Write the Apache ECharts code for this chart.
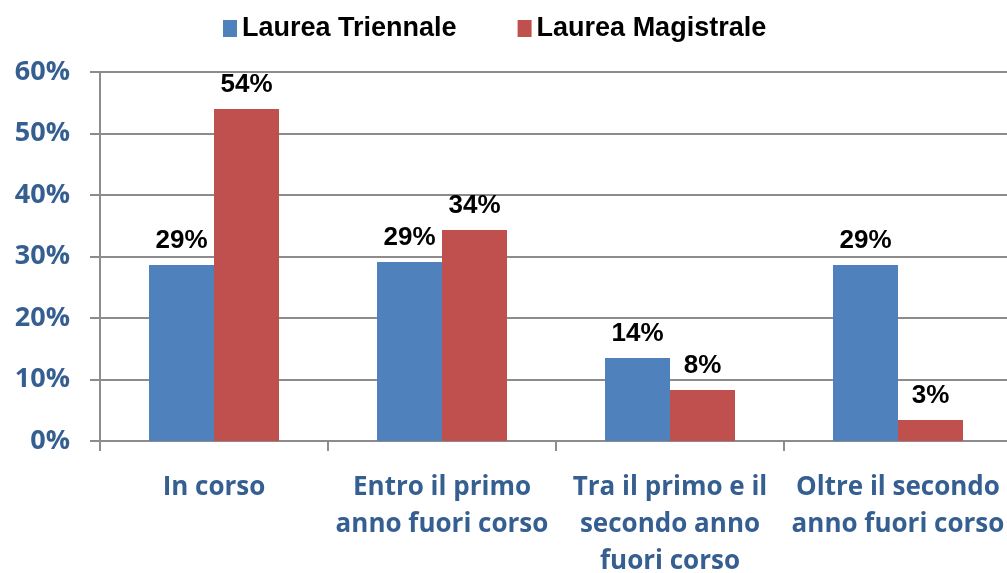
<!DOCTYPE html>
<html>
<head>
<meta charset="utf-8">
<script src="https://cdn.jsdelivr.net/npm/echarts@6/dist/echarts.min.js"></script>
<style>
  html, body { margin: 0; padding: 0; background: #fff; }
  #chart { width: 1007px; height: 573px; }
</style>
</head>
<body>
<div id="chart"></div>
<script>
const categories = ['In corso', 'Entro il primo\nanno fuori corso', 'Tra il primo e il\nsecondo anno\nfuori corso', 'Oltre il secondo\nanno fuori corso'];
const triennale = [28.6, 29.1, 13.5, 28.6];
const magistrale = [54, 34.3, 8.3, 3.4];
const yTicks = [0, 10, 20, 30, 40, 50, 60];

const chart = echarts.init(document.getElementById('chart'));

const barLabel = {
  show: true,
  position: 'top',
  distance: 11,
  color: '#000',
  fontFamily: 'Liberation Sans',
  fontWeight: 'bold',
  fontSize: 26,
  formatter: p => Math.round(p.value) + '%'
};

chart.setOption({
  animation: false,
  legend: {
    top: 10,
    left: 218,
    itemWidth: 14,
    itemHeight: 17,
    itemGap: 61,
    icon: 'rect',
    selectedMode: false,
    textStyle: { fontFamily: 'Liberation Sans', fontWeight: 'bold', fontSize: 27, color: '#000' }
  },
  grid: { left: 100, top: 72, width: 912, height: 369, outerBoundsMode: 'none' },
  xAxis: {
    type: 'category',
    data: categories,
    axisLine: { lineStyle: { color: '#8c8c8c', width: 2 } },
    axisTick: { show: true, length: 10, lineStyle: { color: '#8c8c8c', width: 2 } },
    axisLabel: {
      interval: 0,
      margin: 28,
      color: '#365F91',
      fontFamily: 'Open Sans',
      fontWeight: 'bold',
      fontSize: 26,
      lineHeight: 37
    }
  },
  yAxis: {
    type: 'value',
    min: 0,
    max: 60,
    interval: 10,
    axisLine: { show: true, lineStyle: { color: '#8c8c8c', width: 2 } },
    axisTick: { show: true, length: 10, lineStyle: { color: '#8c8c8c', width: 2 } },
    splitLine: { lineStyle: { color: '#8c8c8c', width: 2 } },
    axisLabel: {
      margin: 30,
      color: '#365F91',
      fontFamily: 'Open Sans',
      fontWeight: 'bold',
      fontSize: 27,
      formatter: v => yTicks.includes(v) ? v + '%' : ''
    }
  },
  series: [
    {
      name: 'Laurea Triennale',
      type: 'bar',
      data: triennale,
      barWidth: 65,
      barGap: '0%',
      itemStyle: { color: '#4F81BD' },
      label: barLabel
    },
    {
      name: 'Laurea Magistrale',
      type: 'bar',
      data: magistrale,
      barWidth: 65,
      itemStyle: { color: '#C0504D' },
      label: barLabel
    }
  ]
});
</script>
</body>
</html>
